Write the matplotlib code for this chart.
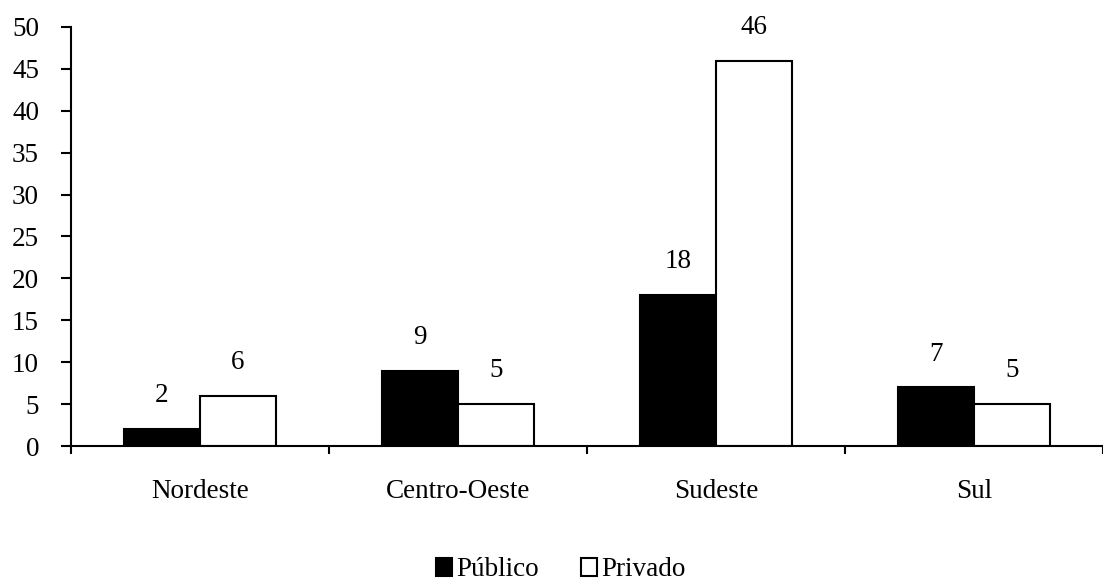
import matplotlib
matplotlib.use("Agg")
import matplotlib.pyplot as plt
from matplotlib.patches import Patch
import numpy as np

regions = ["Nordeste", "Centro-Oeste", "Sudeste", "Sul"]
publico = [2, 9, 18, 7]
privado = [6, 5, 46, 5]
series_names = ["Público", "Privado"]
yticks = [0, 5, 10, 15, 20, 25, 30, 35, 40, 45, 50]

plt.rcParams["font.family"] = ["Liberation Serif", "DejaVu Serif"]
FS = 19.5
LW = 1.5

fig = plt.figure(figsize=(11.03, 5.81), dpi=100)
ax = fig.add_axes([71 / 1103, 1 - 446 / 581, (1103 - 71) / 1103, 419 / 581])

centers = np.arange(len(regions)) + 0.5
w = 0.295
ax.bar(centers - w / 2, publico, width=w, color="black", edgecolor="black", linewidth=LW)
ax.bar(centers + w / 2, privado, width=w, color="white", edgecolor="black", linewidth=LW)

for x, v in zip(centers - w / 2, publico):
    ax.annotate(str(v), (x, v), xytext=(0, 24), textcoords="offset points",
                ha="center", va="center", fontsize=FS)
for x, v in zip(centers + w / 2, privado):
    ax.annotate(str(v), (x, v), xytext=(0, 24), textcoords="offset points",
                ha="center", va="center", fontsize=FS)

for x, name in zip(centers, regions):
    ax.annotate(name, (x, 0), xytext=(0, -33), textcoords="offset points",
                ha="center", va="center", fontsize=FS, annotation_clip=False)

ax.set_ylim(0, 50)
ax.set_xlim(0, (1103 - 71) / 261.7)
ax.set_yticks(yticks)
ax.set_yticklabels([str(t) for t in yticks], fontsize=FS)
ax.set_xticks(np.arange(len(regions) + 1))
ax.set_xticklabels([])
ax.tick_params(axis="y", direction="out", length=7, width=LW, pad=16)
ax.tick_params(axis="x", direction="out", length=6, width=LW)

for s in ["top", "right"]:
    ax.spines[s].set_visible(False)
for s in ["left", "bottom"]:
    ax.spines[s].set_linewidth(LW)
ax.spines["bottom"].set_capstyle("butt")

handles = [Patch(facecolor="black", edgecolor="black", linewidth=LW),
           Patch(facecolor="white", edgecolor="black", linewidth=LW)]
fig.legend(handles, series_names, loc="center", bbox_to_anchor=(0.5086, 1 - 570 / 581),
           ncol=2, frameon=False, fontsize=FS, handlelength=0.6, handleheight=0.6,
           handletextpad=0.15, columnspacing=1.55, borderaxespad=0, borderpad=0)

fig.savefig("out.png", dpi=100)
